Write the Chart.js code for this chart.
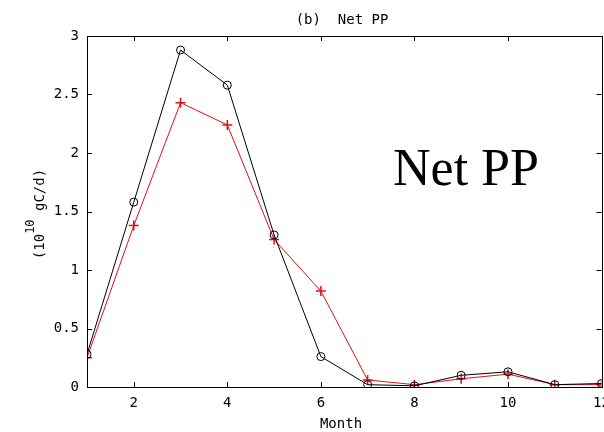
<!DOCTYPE html>
<html>
<head>
<meta charset="utf-8">
<script src="https://cdn.jsdelivr.net/npm/chart.js@4.4.1/dist/chart.umd.min.js"></script>
<style>
  html, body { margin: 0; padding: 0; background: #fff; }
  #wrap { position: relative; width: 604px; height: 432px; overflow: hidden; }
  #chart { position: absolute; left: 0; top: 0; }
  #big { position: absolute; left: 393px; top: 138px; font: 52px "Liberation Serif", serif; color: #000; line-height: 60px; white-space: nowrap; }
</style>
</head>
<body>
<div id="wrap">
  <!-- canvas slightly wider than the window so the right frame sits at the edge, like the cropped original -->
  <canvas id="chart" width="608" height="432"></canvas>
  <div id="big">Net PP</div>
</div>
<script>
/* Net PP monthly chart */

const months   = [1, 2, 3, 4, 5, 6, 7, 8, 9, 10, 11, 12];
const blackPP  = [0.28, 1.58, 2.88, 2.58, 1.30, 0.26, 0.02, 0.01, 0.10, 0.13, 0.02, 0.03];
const redPP    = [0.25, 1.38, 2.43, 2.24, 1.26, 0.82, 0.06, 0.02, 0.07, 0.11, 0.02, 0.02];
const xTicks   = [2, 4, 6, 8, 10, 12];
const yTicks   = [0, 0.5, 1, 1.5, 2, 2.5, 3];

const MONO = '"DejaVu Sans Mono", monospace';
const TICK_FONT = { family: MONO, size: 14 };

// inward ticks on all four sides + frame, gnuplot style
const frame = {
  id: 'frame',
  afterDraw(chart) {
    const { ctx, chartArea: a, scales } = chart;
    ctx.save();
    ctx.strokeStyle = '#000';
    ctx.lineWidth = 1;
    ctx.strokeRect(Math.round(a.left) + 0.5, Math.round(a.top) + 0.5,
                   Math.round(a.right - a.left), Math.round(a.bottom - a.top));
    ctx.beginPath();
    xTicks.forEach(v => {
      const x = Math.round(scales.x.getPixelForValue(v)) + 0.5;
      ctx.moveTo(x, a.bottom); ctx.lineTo(x, a.bottom - 5);
      ctx.moveTo(x, a.top);    ctx.lineTo(x, a.top + 5);
    });
    yTicks.forEach(v => {
      const y = Math.round(scales.y.getPixelForValue(v)) + 0.5;
      ctx.moveTo(a.left, y);  ctx.lineTo(a.left + 5, y);
      ctx.moveTo(a.right, y); ctx.lineTo(a.right - 5, y);
    });
    ctx.stroke();

    // title
    ctx.fillStyle = '#000';
    ctx.font = '14px ' + MONO;
    ctx.textAlign = 'center';
    ctx.textBaseline = 'middle';
    ctx.fillText('(b)  Net PP', 342, 20);
    // x title
    ctx.fillText('Month', 341, 424);

    // y title with superscript
    ctx.translate(40, 214);
    ctx.rotate(-Math.PI / 2);
    ctx.textAlign = 'left';
    const p1 = '(10', sup = '10', p2 = ' gC/d)';
    ctx.font = '14px ' + MONO;
    const w1 = ctx.measureText(p1).width, w3 = ctx.measureText(p2).width;
    ctx.font = '12px ' + MONO;
    const w2 = ctx.measureText(sup).width;
    let x0 = -(w1 + w2 + w3) / 2;
    ctx.font = '14px ' + MONO;
    ctx.fillText(p1, x0, 0);
    ctx.font = '12px ' + MONO;
    ctx.fillText(sup, x0 + w1, -9);
    ctx.font = '14px ' + MONO;
    ctx.fillText(p2, x0 + w1 + w2, 0);
    ctx.restore();
  }
};

new Chart(document.getElementById('chart'), {
  type: 'line',
  data: {
    labels: months,
    datasets: [
      {
        label: 'black',
        data: months.map((m, i) => ({ x: m, y: blackPP[i] })),
        borderColor: '#000', backgroundColor: 'transparent',
        borderWidth: 1, pointStyle: 'circle', pointRadius: 4,
        pointBorderColor: '#000', pointBackgroundColor: 'transparent', pointBorderWidth: 1,
        tension: 0
      },
      {
        label: 'red',
        data: months.map((m, i) => ({ x: m, y: redPP[i] })),
        borderColor: '#e0101a', backgroundColor: 'transparent',
        borderWidth: 1, pointStyle: 'cross', pointRadius: 5,
        pointBorderColor: '#e0101a', pointBorderWidth: 1.5,
        tension: 0
      }
    ]
  },
  options: {
    responsive: false, animation: false,
    layout: { padding: { left: 0, right: 0, top: 36, bottom: 0 } },
    plugins: { legend: { display: false }, tooltip: { enabled: false } },
    scales: {
      x: {
        type: 'linear', min: 1, max: 12,
        afterBuildTicks: s => { s.ticks = xTicks.map(v => ({ value: v })); },
        afterFit: s => { s.height = 45; s.paddingLeft = 0; s.paddingRight = 0; },
        grid: { display: false, drawTicks: false },
        border: { display: false },
        ticks: { color: '#000', font: TICK_FONT, padding: 8, maxRotation: 0 }
      },
      y: {
        min: 0, max: 3,
        afterBuildTicks: s => { s.ticks = yTicks.map(v => ({ value: v })); },
        afterFit: s => { s.width = 87; s.paddingTop = 0; s.paddingBottom = 0; },
        grid: { display: false, drawTicks: false },
        border: { display: false },
        ticks: { color: '#000', font: TICK_FONT, padding: 8, callback: v => String(v) }
      }
    }
  },
  plugins: [frame]
});
</script>
</body>
</html>
